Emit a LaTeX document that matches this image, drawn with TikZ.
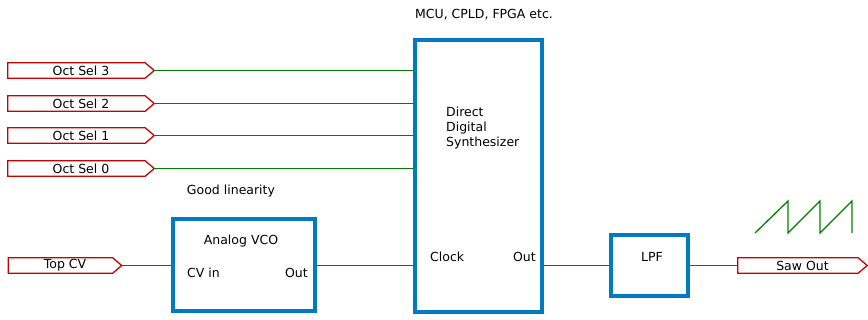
\documentclass[tikz,border=0pt]{standalone}
\usepackage{fontspec}
\setmainfont{DejaVu Sans}
\definecolor{boxblue}{RGB}{0,122,195}
\definecolor{wiregreen}{RGB}{0,128,0}
\definecolor{portred}{RGB}{200,0,0}
\begin{document}
\begin{tikzpicture}[x=1pt,y=-1pt,
  font=\fontsize{12.5}{15}\selectfont,
  port/.style={rectangle, minimum height=15pt, inner sep=0pt, anchor=center},
  portline/.style={draw=portred, line width=1.3pt, line join=miter},
  block/.style={draw=boxblue, line width=4.5pt, rectangle, inner sep=0pt},
  wire/.style={draw=wiregreen, line width=1.3pt},
  lbl/.style={inner sep=0pt}]
\useasboundingbox (0,0) rectangle (868,320);
% ports
\node[port, minimum width=146pt] (os3) at (81,70.5) {Oct Sel 3};
\node[port, minimum width=146pt] (os2) at (81,103.5) {Oct Sel 2};
\node[port, minimum width=146pt] (os1) at (81,135.5) {Oct Sel 1};
\node[port, minimum width=146pt] (os0) at (81,168.5) {Oct Sel 0};
\node[port, minimum width=113pt] (cv) at (65,265.5) {Top CV};
\node[port, minimum width=129pt] (saw) at (802.5,265.5) {Saw Out};
\foreach \p in {os3,os2,os1,os0,cv,saw}{
  \draw[portline] (\p.north west) -- ([xshift=-9pt]\p.north east) -- (\p.east) -- ([xshift=-9pt]\p.south east) -- (\p.south west) -- cycle;
}
% blocks
\node[block, minimum width=127pt, minimum height=272pt] (dds) at (478.5,176) {};
\node[block, minimum width=142pt, minimum height=92pt] (vco) at (244,265) {};
\node[block, minimum width=77pt, minimum height=61pt] (lpf) at (649.5,265.5) {};
% labels
\node[lbl] (mcu) at (484,15) {MCU, CPLD, FPGA etc.};
\node[lbl, anchor=west, align=left] (ddst) at (446,128) {Direct\\[0pt]Digital\\[0pt]Synthesizer};
\node[lbl, anchor=west] (clk) at (430,257) {Clock};
\node[lbl, anchor=east] (ddsout) at (536,257) {Out};
\node[lbl] (gl) at (231,191) {Good linearity};
\node[lbl] (avco) at (241,241) {Analog VCO};
\node[lbl, anchor=west] (cvin) at (187,273) {CV in};
\node[lbl, anchor=east] (vout) at (308,273) {Out};
\node[lbl] (lpft) at (652,257) {LPF};
% wires
\draw[wire] (os3.east) -- (os3.east -| dds.west);
\draw[wire] (os2.east) -- (os2.east -| dds.west);
\draw[wire] (os1.east) -- (os1.east -| dds.west);
\draw[wire] (os0.east) -- (os0.east -| dds.west);
\draw[wire] (cv.east) -- (cv.east -| vco.west);
\draw[wire] (vco.east |- cv.east) -- (cv.east -| dds.west);
\draw[wire] (dds.east |- saw.west) -- (saw.west -| lpf.west);
\draw[wire] (lpf.east |- saw.west) -- (saw.west);
% sawtooth
\coordinate (s0) at (755,233);
\draw[wire] (s0) -- (788,201) -- (788,233) -- (820,201) -- (820,233) -- (852,201) -- (852,233);
\end{tikzpicture}
\end{document}
